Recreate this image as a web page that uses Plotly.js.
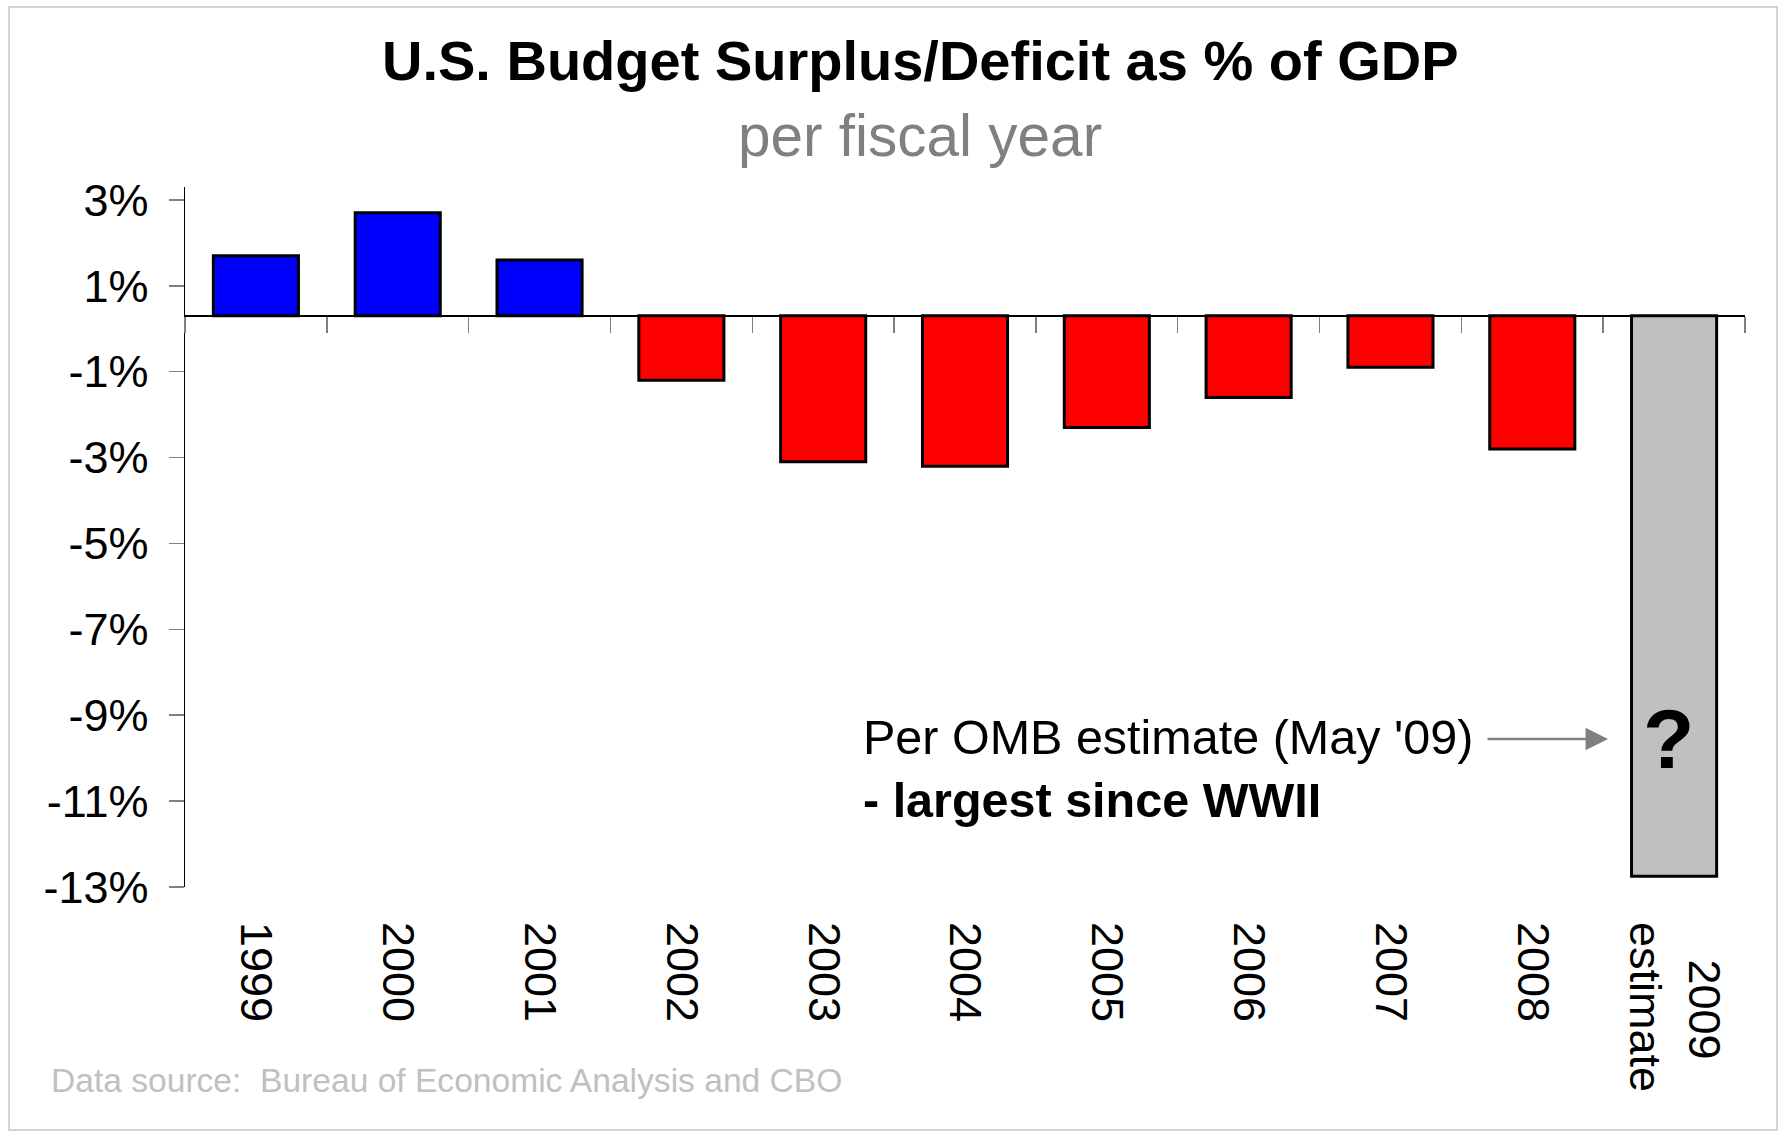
<!DOCTYPE html>
<html>
<head>
<meta charset="utf-8">
<script src="https://cdn.plot.ly/plotly-3.0.1.min.js"></script>
<style>
  html, body { margin: 0; padding: 0; background: #ffffff; }
  #wrap { position: relative; width: 1779px; height: 1133px; }
  #chart { position: absolute; left: 0; top: 0; width: 1779px; height: 1133px; }
  #frame { position: absolute; left: 8px; top: 6px; width: 1770px; height: 1125px;
           border: 2px solid #d4d4d4; box-sizing: border-box; pointer-events: none; }
</style>
</head>
<body>
<div id="wrap">
  <div id="chart"></div>
  <div id="frame"></div>
</div>
<script>
// ---- data ----
const categories = ['1999', '2000', '2001', '2002', '2003', '2004', '2005', '2006', '2007', '2008', '2009 estimate'];
const xTickLabels = ['1999', '2000', '2001', '2002', '2003', '2004', '2005', '2006', '2007', '2008', '\u00A0\u00A0\u00A02009<br>estimate'];
const values = [1.4, 2.4, 1.3, -1.5, -3.4, -3.5, -2.6, -1.9, -1.2, -3.1, -13.05];
const barColors = ['#0000FF', '#0000FF', '#0000FF', '#FF0000', '#FF0000', '#FF0000', '#FF0000', '#FF0000', '#FF0000', '#FF0000', '#C0C0C0'];
const yTickValues = [2.7, 0.7, -1.3, -3.3, -5.3, -7.3, -9.3, -11.3, -13.3];
const yTickLabels = ['3%', '1%', '-1%', '-3%', '-5%', '-7%', '-9%', '-11%', '-13%'];
const yRange = [-13.3, 3.0];

const titleText = 'U.S. Budget Surplus/Deficit as % of GDP';
const subtitleText = 'per fiscal year';
const noteLine1 = "Per OMB estimate (May '09)";
const noteLine2 = '- largest since WWII';
const sourceText = 'Data source:  Bureau of Economic Analysis and CBO';

const FONT = 'Arial, "Liberation Sans", sans-serif';
const zeroFrac = (0 - yRange[0]) / (yRange[1] - yRange[0]);

const traces = [
  {
    type: 'bar',
    x: categories,
    y: values,
    width: 0.6,
    marker: { color: barColors, line: { color: '#000000', width: 3 } },
    hoverinfo: 'x+y',
    showlegend: false
  },
  {
    type: 'scatter',
    x: categories,
    y: values,
    xaxis: 'x2',
    mode: 'none',
    hoverinfo: 'skip',
    showlegend: false
  }
];

const layout = {
  width: 1779,
  height: 1133,
  margin: { l: 185, r: 34, t: 187, b: 246, pad: 0 },
  paper_bgcolor: '#ffffff',
  plot_bgcolor: '#ffffff',
  font: { family: FONT, color: '#000000' },
  showlegend: false,
  xaxis: {
    type: 'category',
    range: [-0.5, categories.length - 0.5],
    tickmode: 'array',
    tickvals: categories,
    ticktext: xTickLabels,
    tickangle: 90,
    ticks: '',
    showline: false,
    showgrid: false,
    zeroline: false,
    ticklabelstandoff: 34,
    tickfont: { family: FONT, size: 45, color: '#000000' }
  },
  xaxis2: {
    type: 'category',
    overlaying: 'x',
    anchor: 'free',
    position: zeroFrac,
    side: 'bottom',
    range: [-0.5, categories.length - 0.5],
    tickson: 'boundaries',
    ticks: 'outside',
    ticklen: 16,
    tickwidth: 1.5,
    tickcolor: '#808080',
    showticklabels: false,
    showline: false,
    showgrid: false,
    zeroline: false
  },
  yaxis: {
    range: yRange,
    tickmode: 'array',
    tickvals: yTickValues,
    ticktext: yTickLabels,
    ticks: 'outside',
    ticklen: 15,
    tickwidth: 1.5,
    tickcolor: '#808080',
    showline: true,
    linecolor: '#000000',
    linewidth: 1.5,
    showgrid: false,
    zeroline: true,
    zerolinecolor: '#000000',
    zerolinewidth: 1.5,
    ticklabelstandoff: 11,
    tickfont: { family: FONT, size: 45, color: '#000000' }
  },
  annotations: [
    {
      text: '<b>' + titleText + '</b>',
      xref: 'paper', yref: 'paper', x: 0.4712, y: 1.181,
      xanchor: 'center', yanchor: 'middle', showarrow: false,
      font: { family: FONT, size: 56, color: '#000000' }
    },
    {
      text: subtitleText,
      xref: 'paper', yref: 'paper', x: 0.4712, y: 1.073,
      xanchor: 'center', yanchor: 'middle', showarrow: false,
      font: { family: FONT, size: 58.5, color: '#808080' }
    },
    {
      text: noteLine1,
      xref: 'paper', yref: 'paper', x: 0.4333, y: 0.2143,
      xanchor: 'left', yanchor: 'middle', showarrow: false,
      font: { family: FONT, size: 48.5, color: '#000000' }
    },
    {
      text: '<b>' + noteLine2 + '</b>',
      xref: 'paper', yref: 'paper', x: 0.4333, y: 0.124,
      xanchor: 'left', yanchor: 'middle', showarrow: false,
      font: { family: FONT, size: 48.5, color: '#000000' }
    },
    {
      text: '',
      xref: 'paper', yref: 'paper', x: 0.9122, y: 0.2114,
      ax: -122, ay: 0, axref: 'pixel', ayref: 'pixel',
      showarrow: true, arrowhead: 2, arrowsize: 1.8, arrowwidth: 2.5,
      arrowcolor: '#808080'
    },
    {
      text: '<b>?</b>',
      xref: 'x', yref: 'y', x: categories[categories.length - 1], y: -9.85,
      xshift: -6,
      xanchor: 'center', yanchor: 'middle', showarrow: false,
      font: { family: FONT, size: 84, color: '#000000' }
    },
    {
      text: sourceText,
      xref: 'paper', yref: 'paper', x: -0.0875, y: -0.277,
      xanchor: 'left', yanchor: 'middle', showarrow: false,
      font: { family: FONT, size: 33.6, color: '#c0c0c0' }
    }
  ]
};

Plotly.newPlot('chart', traces, layout, { displayModeBar: false, staticPlot: true });
</script>
</body>
</html>
